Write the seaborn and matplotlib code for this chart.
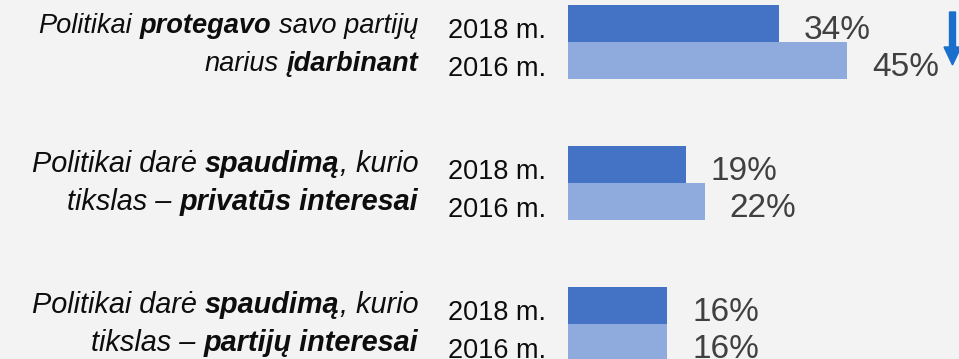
import matplotlib
matplotlib.use("Agg")
import matplotlib.pyplot as plt
from matplotlib.transforms import IdentityTransform
from matplotlib.patches import FancyArrow
import seaborn as sns
import pandas as pd

# --- data -------------------------------------------------------------
categories = ["protegavo", "spaudimas_privatus", "spaudimas_partiju"]
years = ["2018 m.", "2016 m."]
values_2018 = [34, 19, 16]
values_2016 = [45, 22, 16]

# category captions: lines of (text, bold) segments, all italic
category_lines = [
    [[("Politikai ", False), ("protegavo", True), (" savo partijų", False)],
     [("narius ", False), ("įdarbinant", True)]],
    [[("Politikai darė ", False), ("spaudimą", True), (", kurio", False)],
     [("tikslas – ", False), ("privatūs interesai", True)]],
    [[("Politikai darė ", False), ("spaudimą", True), (", kurio", False)],
     [("tikslas – ", False), ("partijų interesai", True)]],
]

# --- styling ----------------------------------------------------------
W, H, DPI = 959, 359, 100
BG = "#f3f3f3"
C2018 = "#4472c4"
C2016 = "#8faadc"
FONT = "Liberation Sans"
caption_sizes = [19.6, 20.8, 20.8]
caption_shift = [-3, 0, 0]

sns.set_theme(style="white")
plt.rcParams["font.family"] = [FONT, "DejaVu Sans"]

df = pd.DataFrame({
    "category": categories * 2,
    "year": [years[0]] * 3 + [years[1]] * 3,
    "value": values_2018 + values_2016,
})

fig = plt.figure(figsize=(W / DPI, H / DPI), dpi=DPI, facecolor=BG)
x0 = 568
ax = fig.add_axes([x0 / W, 0, 1 - x0 / W, 1])
ax.set_facecolor("none")

sns.barplot(data=df, y="category", x="value", hue="year", orient="h",
            palette=[C2018, C2016], saturation=1, width=0.525, linewidth=0,
            legend=False, ax=ax)

px_per_unit = 6.21
ax.set_xlim(0, (W - x0) / px_per_unit)
pitch = 141.0
top_center = 42.0
ax.set_ylim((H - top_center) / pitch, -top_center / pitch)
ax.axis("off")

# bar centre positions (data y) for each series
off = 0.525 / 4
series = [(values_2018, -off), (values_2016, off)]

# value labels
for vals, dy in series:
    for i, v in enumerate(vals):
        ax.annotate(f"{v}%", xy=(v, i + dy), xytext=(25, -7),
                    textcoords="offset pixels", ha="left", va="center",
                    fontsize=24, color="#404040", family=FONT)

# year labels
for i in range(len(categories)):
    for (vals, dy), yr in zip(series, years):
        ax.annotate(yr, xy=(448, i + dy), xycoords=("figure pixels", "data"),
                    xytext=(0, -8), textcoords="offset pixels",
                    ha="left", va="center", fontsize=19.5, color="#0d0d0d",
                    family=FONT)

# category captions, right aligned, mixed weight (italic / bold italic)
renderer = fig.canvas.get_renderer()


def text_width(s, size):
    t = fig.text(0, 0, s, fontsize=size, style="italic", family=FONT)
    w = t.get_window_extent(renderer).width
    t.remove()
    return w


def draw_line(segments, x_right, y_disp, size):
    space_w = text_width("a a", size) - text_width("aa", size)
    cursor = x_right
    for text, bold in reversed(segments):
        trail = len(text) - len(text.rstrip(" "))
        lead = len(text) - len(text.lstrip(" "))
        core = text.strip(" ")
        cursor -= trail * space_w
        t = fig.text(cursor, y_disp, core, transform=IdentityTransform(),
                     ha="right", va="center", fontsize=size,
                     style="italic", weight="bold" if bold else "normal",
                     color="#0d0d0d", family=FONT)
        cursor -= t.get_window_extent(renderer).width
        cursor -= lead * space_w


for i, lines in enumerate(category_lines):
    for (vals, dy), segs in zip(series, lines):
        y_disp = ax.transData.transform((0, i + dy))[1] + caption_shift[i]
        draw_line(segs, 418, y_disp, caption_sizes[i])

# trend arrow (decrease since 2016)
fig.add_artist(FancyArrow(952.5, H - 12, 0, -(65 - 12), width=6,
                          head_width=17, head_length=18,
                          length_includes_head=True, color="#1a6fcc",
                          transform=IdentityTransform()))

fig.savefig("out.png", dpi=DPI, facecolor=BG)
